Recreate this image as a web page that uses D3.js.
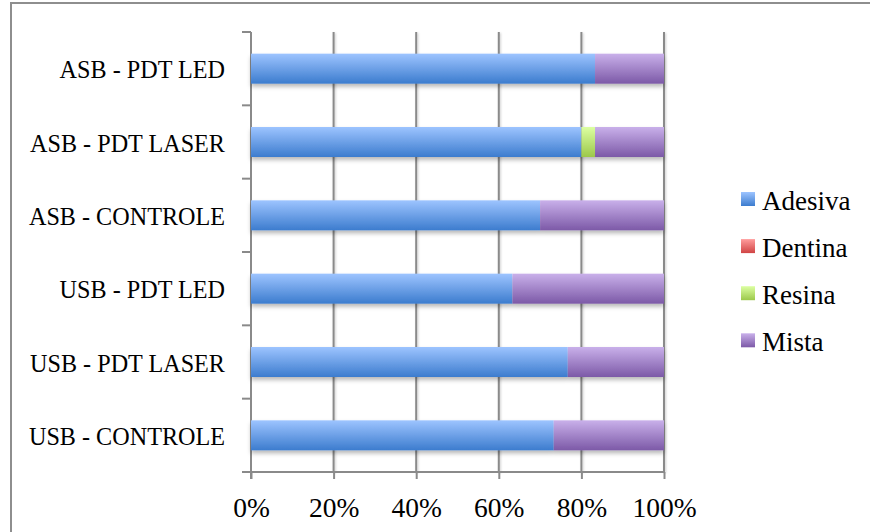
<!DOCTYPE html>
<html>
<head>
<meta charset="utf-8">
<script src="https://cdn.jsdelivr.net/npm/d3@7/dist/d3.min.js"></script>
<style>
  html, body { margin: 0; padding: 0; background: #fff; }
  svg { display: block; }
  text { font-family: "Liberation Serif", "Times New Roman", serif; fill: #000; }
</style>
</head>
<body>
<svg id="chart" width="870" height="532"></svg>
<script>
// Categories, top to bottom
const categories = [
  "ASB - PDT LED",
  "ASB - PDT LASER",
  "ASB - CONTROLE",
  "USB - PDT LED",
  "USB - PDT LASER",
  "USB - CONTROLE"
];

// Failure modes (percent of specimens)
const seriesNames = ["Adesiva", "Dentina", "Resina", "Mista"];
const adesiva = [83.3, 80.0, 70.0, 63.3, 76.7, 73.3];
const dentina = [0, 0, 0, 0, 0, 0];
const resina  = [0, 3.3, 0, 0, 0, 0];
const mista   = [16.7, 16.7, 30.0, 36.7, 23.3, 26.7];

const tickValues = [0, 0.2, 0.4, 0.6, 0.8, 1.0];

const palette = {
  Adesiva: ["#9dc4ff", "#3c7cce"],
  Dentina: ["#ff9c9c", "#d04444"],
  Resina:  ["#dcffa2", "#9cc84a"],
  Mista:   ["#c9b0ea", "#7c59a7"]
};

const rows = categories.map((c, i) => ({
  category: c,
  Adesiva: adesiva[i], Dentina: dentina[i], Resina: resina[i], Mista: mista[i]
}));

const svg = d3.select("#chart");
const defs = svg.append("defs");

seriesNames.forEach(name => {
  const g = defs.append("linearGradient")
    .attr("id", "grad-" + name)
    .attr("x1", 0).attr("y1", 0).attr("x2", 0).attr("y2", 1);
  g.append("stop").attr("offset", "0%").attr("stop-color", palette[name][0]);
  g.append("stop").attr("offset", "100%").attr("stop-color", palette[name][1]);
});

const shadow = defs.append("filter").attr("id", "barShadow")
  .attr("x", "-5%").attr("y", "-20%").attr("width", "110%").attr("height", "160%");
shadow.append("feDropShadow")
  .attr("dx", 0).attr("dy", 3).attr("stdDeviation", 2)
  .attr("flood-color", "#000").attr("flood-opacity", 0.28);

const lineShadow = defs.append("filter").attr("id", "lineShadow")
  .attr("x", "-50%").attr("y", "-5%").attr("width", "300%").attr("height", "110%");
lineShadow.append("feDropShadow")
  .attr("dx", 1).attr("dy", 1).attr("stdDeviation", 0.8)
  .attr("flood-color", "#000").attr("flood-opacity", 0.2);

// Outer frame
svg.append("rect")
  .attr("x", 11).attr("y", 3).attr("width", 880).attr("height", 560)
  .attr("fill", "none").attr("stroke", "#8e8e8e").attr("stroke-width", 2);

const plot = { left: 251, right: 664, top: 32, bottom: 472 };

const x = d3.scaleLinear().domain([0, 1]).range([plot.left, plot.right]);
const y = d3.scaleBand().domain(categories).range([plot.top, plot.bottom]).paddingInner(0).paddingOuter(0);
const barH = 30;

// Vertical gridlines
svg.append("g").attr("filter", "url(#lineShadow)")
  .selectAll("line").data(tickValues.slice(1)).join("line")
  .attr("x1", d => x(d)).attr("x2", d => x(d))
  .attr("y1", plot.top).attr("y2", plot.bottom)
  .attr("stroke", "#8a8a8a").attr("stroke-width", 2);

// X axis
const xAxis = d3.axisBottom(x).tickValues(tickValues)
  .tickFormat(d3.format(".0%")).tickSize(7).tickPadding(18);
const gx = svg.append("g").attr("transform", `translate(0,${plot.bottom})`).call(xAxis);
gx.select(".domain").attr("stroke", "#8a8a8a").attr("stroke-width", 2)
  .attr("d", `M${plot.left},0H${plot.right}`);
gx.selectAll(".tick line").attr("stroke", "#8a8a8a").attr("stroke-width", 2);
gx.selectAll(".tick text")
  .style("font-family", "'Liberation Serif', serif")
  .style("font-size", "27.5px").attr("fill", "#000");

// Y axis: ticks sit on band boundaries
const boundaries = d3.range(categories.length + 1).map(i => plot.top + i * y.step());
const gy = svg.append("g");
gy.append("line")
  .attr("x1", plot.left).attr("x2", plot.left)
  .attr("y1", plot.top).attr("y2", plot.bottom + 7)
  .attr("stroke", "#8a8a8a").attr("stroke-width", 2);
gy.selectAll("line.tk").data(boundaries).join("line").attr("class", "tk")
  .attr("x1", plot.left - 9).attr("x2", plot.left)
  .attr("y1", d => d).attr("y2", d => d)
  .attr("stroke", "#8a8a8a").attr("stroke-width", 2);
const labelX = plot.left - 26;
gy.selectAll("text").data(categories).join("text")
  .attr("transform", d => `translate(${labelX},${y(d) + y.bandwidth() / 2 + 1}) scale(0.93,1)`)
  .attr("text-anchor", "end")
  .attr("dominant-baseline", "central")
  .style("font-size", "26px")
  .text(d => d);

// Stacked bars
const stack = d3.stack().keys(seriesNames);
const layers = stack(rows);

svg.append("g").attr("filter", "url(#barShadow)")
  .selectAll("g").data(layers).join("g")
  .attr("fill", d => `url(#grad-${d.key})`)
  .selectAll("rect").data(d => d).join("rect")
  .attr("x", d => x(d[0] / 100))
  .attr("width", d => Math.max(0, x(d[1] / 100) - x(d[0] / 100)))
  .attr("y", d => y(d.data.category) + y.bandwidth() / 2 - barH / 2)
  .attr("height", barH);

// Legend
const legend = svg.append("g").attr("transform", "translate(741,192)");
const item = legend.selectAll("g").data(seriesNames).join("g")
  .attr("transform", (d, i) => `translate(0,${i * 47.1})`);
item.append("rect")
  .attr("width", 14).attr("height", 14)
  .attr("fill", d => `url(#grad-${d})`);
item.append("text")
  .attr("x", 21).attr("y", 9)
  .attr("dominant-baseline", "central")
  .style("font-size", "27px")
  .text(d => d);
</script>
</body>
</html>
